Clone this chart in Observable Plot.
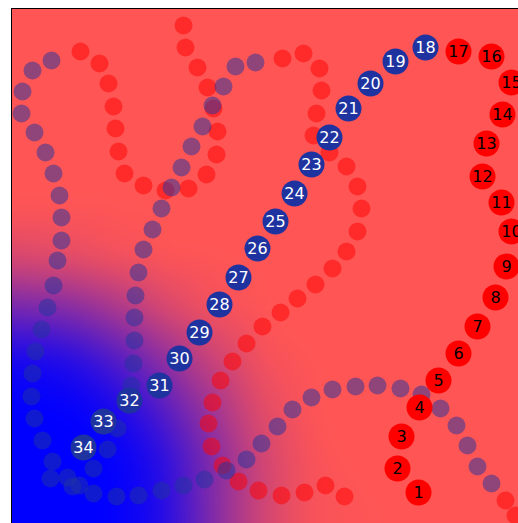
<!DOCTYPE html>
<html>
<head>
<meta charset="utf-8">
<script src="https://cdn.jsdelivr.net/npm/d3@7"></script>
<script src="https://cdn.jsdelivr.net/npm/@observablehq/plot@0.6"></script>
<style>
html, body { margin: 0; padding: 0; overflow: hidden; background: white; }
svg { max-width: none !important; }
</style>
</head>
<body>
<div id="chart"></div>
<script>
// Labeled sequence (1..34), screen-like coordinates
const labeledX = [418,397,401,419,438,458,477,495,506,511,501,482,486,502,511,491,458,425,395,370,348,329,311,294,275,257,238,219,199,179,159,129,103,83];
const labeledY = [492,468,436,407,380,353,326,297,266,231,202,176,143,114,82,56,51,47,61,83,108,137,164,193,221,248,277,304,332,358,385,400,421,447];
const redCount = 17;

// Faded red trail
const redTrailX = [183,185,197,207,213,217,216,206,188,165,143,124,118,115,113,108,99,80,
  282,303,319,321,316,313,329,346,357,361,357,346,332,315,297,280,262,246,232,220,212,208,211,222,238,258,281,304,325,344,505,515];
const redTrailY = [25,47,67,87,108,131,154,174,188,190,185,173,151,128,106,83,63,51,
  58,53,68,90,113,135,152,166,186,208,231,251,268,284,298,312,326,343,361,380,402,423,446,465,481,490,495,492,485,496,500,515];

// Faded blue trail
const blueTrailX = [51,32,22,21,34,45,53,59,61,61,57,53,47,41,35,32,31,34,42,52,50,67,72,79,93,116,138,161,183,204,226,246,261,277,292,311,332,355,377,400,421,440,456,467,477,491,
  255,235,223,212,202,191,181,171,161,152,143,138,135,134,134,133,131,117,107,93];
const blueTrailY = [60,70,91,113,132,152,173,195,217,240,260,285,307,329,351,373,396,418,440,461,478,477,486,485,493,496,495,490,485,479,470,459,443,426,409,397,389,386,385,388,394,408,425,445,466,483,
  62,66,86,105,126,146,167,187,208,229,249,272,295,317,340,363,385,428,449,468];

// Background field: blue share (0 = red, 1 = blue) sampled on a coarse grid
const fieldX = [11,61,111,161,211,261,311];
const fieldY = [208,258,308,358,408,458,508,558];
const fieldT = [
  [0, 0.15, 0.55, 0.92, 1,    1,    1,    1   ],
  [0, 0.10, 0.50, 0.88, 1,    1,    1,    1   ],
  [0, 0.04, 0.35, 0.70, 0.92, 1,    1,    1   ],
  [0, 0,    0.15, 0.45, 0.68, 0.85, 0.88, 0.88],
  [0, 0,    0.03, 0.20, 0.38, 0.50, 0.50, 0.50],
  [0, 0,    0,    0.03, 0.10, 0.18, 0.18, 0.18],
  [0, 0,    0,    0,    0,    0.02, 0.02, 0.02]
];
const cornerX = [11,311,561,561,561,411];
const cornerY = [8,8,8,208,558,558];

const field = [];
fieldX.forEach((x, i) => fieldY.forEach((y, j) => field.push({x, y, t: fieldT[i][j]})));
cornerX.forEach((x, i) => field.push({x, y: cornerY[i], t: 0}));

const labeled = labeledX.map((x, i) => ({x, y: labeledY[i], n: i + 1}));
const redLab = labeled.filter(d => d.n <= redCount);
const blueLab = labeled.filter(d => d.n > redCount);
const redTrail = redTrailX.map((x, i) => ({x, y: redTrailY[i]}));
const blueTrail = blueTrailX.map((x, i) => ({x, y: blueTrailY[i]}));

const BLUE = "#1f33a0";

const chart = Plot.plot({
  width: 561,
  height: 558,
  marginLeft: 11,
  marginRight: 0,
  marginTop: 8,
  marginBottom: 0,
  style: {fontFamily: "DejaVu Sans", background: "white", maxWidth: "none"},
  x: {domain: [11, 561], axis: null},
  y: {domain: [8, 558], reverse: true, axis: null},
  color: {type: "linear", domain: [0, 1], range: ["#ff5555", "#0000ff"], interpolate: d3.interpolateRgb},
  marks: [
    Plot.raster(field, {x: "x", y: "y", fill: "t", interpolate: "barycentric", blur: 14, x1: 11, y1: 8, x2: 561, y2: 558}),
    Plot.dot(redTrail, {x: "x", y: "y", r: 9, fill: "red", fillOpacity: 0.5}),
    Plot.dot(blueTrail, {x: "x", y: "y", r: 9, fill: BLUE, fillOpacity: 0.5}),
    Plot.dot(redLab, {x: "x", y: "y", r: 13, fill: "red"}),
    Plot.dot(blueLab, {x: "x", y: "y", r: 13, fill: BLUE}),
    Plot.text(redLab, {x: "x", y: "y", text: "n", fill: "black", fontSize: 16}),
    Plot.text(blueLab, {x: "x", y: "y", text: "n", fill: "white", fontSize: 16}),
    Plot.frame({stroke: "black"})
  ]
});
document.getElementById("chart").appendChild(chart);
</script>
</body>
</html>
